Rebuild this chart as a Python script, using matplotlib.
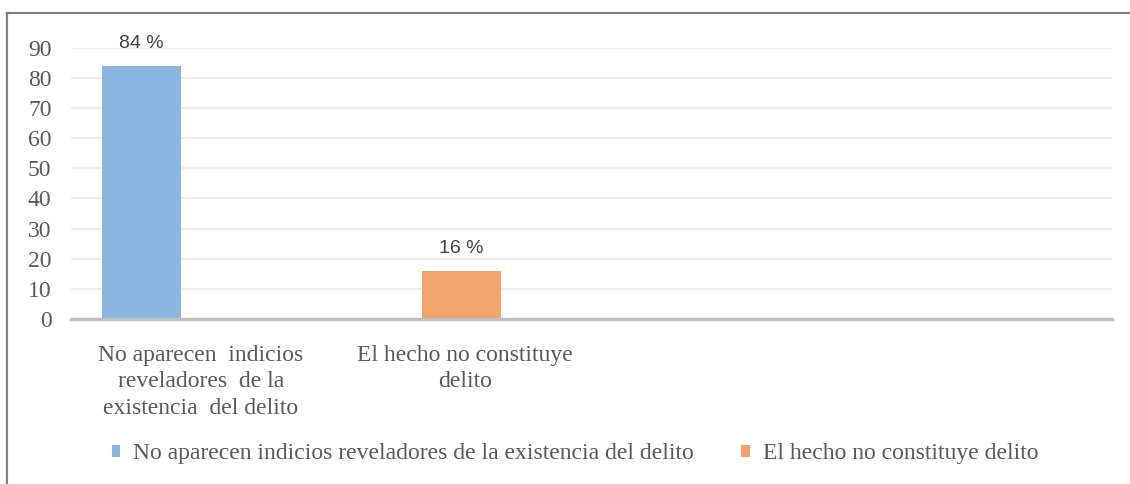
import matplotlib
matplotlib.use("Agg")
import matplotlib.pyplot as plt
from matplotlib.lines import Line2D
from matplotlib.patches import Patch

categories = ["No aparecen  indicios\nreveladores  de la\nexistencia  del delito",
              "El hecho no constituye\ndelito"]
series_names = ["No aparecen indicios reveladores de la existencia del delito",
                "El hecho no constituye delito"]
values = [84, 16]
value_labels = ["84 %", "16 %"]
yticks = [0, 10, 20, 30, 40, 50, 60, 70, 80, 90]

colors = ["#8ab6e0", "#f0a46c"]
label_shift = [0.186, 0.011]   # Excel wraps the labels a bit off-centre

fig = plt.figure(figsize=(11.30, 4.84), dpi=100)
ax = fig.add_axes([0.0628, 0.341, 0.9212, 0.560])

x = list(range(len(values)))
ax.bar(x, values, width=0.247, color=colors, zorder=3)

for xi, v, lab in zip(x, values, value_labels):
    ax.annotate(lab, (xi, v), xytext=(0, 10), textcoords="offset points",
                ha="center", va="bottom", fontsize=14, color="#404040",
                family="Liberation Sans")

ax.set_xlim(-0.220, 3.033)
ax.set_ylim(0, 90)
ax.set_yticks(yticks)
ax.set_yticklabels([str(t) for t in yticks], family="Liberation Serif",
                   fontsize=17, color="#595959")
ax.tick_params(axis="y", length=0, pad=14)
ax.set_xticks([])

ax.grid(axis="y", color="#eeeeee", linewidth=1.6, zorder=0)
for s in ["top", "right", "left"]:
    ax.spines[s].set_visible(False)
ax.spines["bottom"].set_color("#bfbfbf")
ax.spines["bottom"].set_linewidth(2.4)
ax.spines["bottom"].set_zorder(4)

for xi, cat, sh in zip(x, categories, label_shift):
    ax.text(xi + sh, -0.095, cat, transform=ax.get_xaxis_transform(),
            ha="center", va="top", fontsize=17, color="#595959",
            family="Liberation Serif", linespacing=1.35)

handles = [Patch(facecolor=c, edgecolor="none") for c in colors]
fig.legend(handles, series_names, loc="center", bbox_to_anchor=(0.509, 0.062),
           ncol=2, frameon=False, prop={"family": "Liberation Serif", "size": 17},
           labelcolor="#595959", handlelength=0.35, handleheight=0.35,
           handletextpad=0.55, columnspacing=2.0)

# outer chart frame (only left and top edges are visible in the crop)
fig.add_artist(Line2D([7 / 1130, 7 / 1130], [0, 1 - 13 / 484],
                      transform=fig.transFigure, color="#808080", linewidth=1.6))
fig.add_artist(Line2D([7 / 1130, 1], [1 - 13 / 484, 1 - 13 / 484],
                      transform=fig.transFigure, color="#808080", linewidth=1.6))

fig.savefig("out.png", dpi=100)
